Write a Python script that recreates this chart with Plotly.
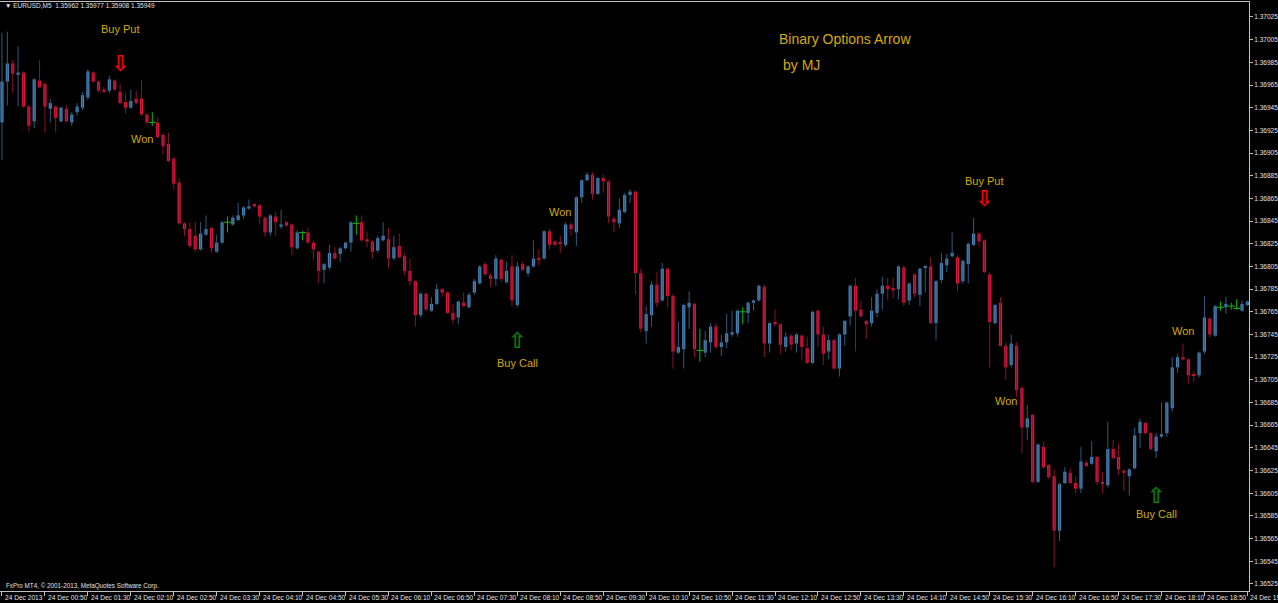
import plotly.graph_objects as go

# ---- data (EURUSD M5, 24 Dec 2013), one value per candle ----
opens = [1.36932,1.36968,1.36984,1.36974,1.36976,1.36946,1.36933,1.36969,1.36966,1.36944,
1.36946,1.36933,1.36944,1.36932,1.36941,1.36945,1.36954,1.36976,1.36968,1.36961,
1.36960,1.36969,1.36959,1.36950,1.36945,1.36953,1.36953,1.36939,1.36932,1.36932,
1.36921,1.36913,1.36900,1.36879,1.36843,1.36838,1.36832,1.36820,1.36833,1.36839,
1.36818,1.36826,1.36844,1.36842,1.36846,1.36850,1.36856,1.36860,1.36859,1.36848,
1.36835,1.36849,1.36840,1.36844,1.36842,1.36821,1.36835,1.36835,1.36826,1.36818,
1.36802,1.36804,1.36817,1.36816,1.36821,1.36826,1.36843,1.36844,1.36829,1.36827,
1.36819,1.36828,1.36829,1.36812,1.36823,1.36814,1.36801,1.36792,1.36762,1.36781,
1.36766,1.36772,1.36785,1.36782,1.36764,1.36760,1.36773,1.36769,1.36782,1.36790,
1.36807,1.36797,1.36794,1.36811,1.36791,1.36805,1.36771,1.36807,1.36799,1.36805,
1.36812,1.36812,1.36836,1.36827,1.36826,1.36824,1.36842,1.36835,1.36866,1.36881,
1.36886,1.36869,1.36883,1.36880,1.36847,1.36843,1.36853,1.36868,1.36871,1.36799,
1.36748,1.36762,1.36789,1.36775,1.36803,1.36779,1.36729,1.36732,1.36769,1.36772,
1.36731,1.36729,1.36738,1.36752,1.36734,1.36738,1.36745,1.36746,1.36765,1.36764,
1.36773,1.36775,1.36787,1.36737,1.36756,1.36754,1.36734,1.36744,1.36737,1.36744,
1.36733,1.36720,1.36766,1.36745,1.36730,1.36740,1.36715,1.36745,1.36761,1.36788,
1.36767,1.36757,1.36755,1.36764,1.36781,1.36788,1.36786,1.36785,1.36804,1.36775,
1.36798,1.36780,1.36804,1.36805,1.36755,1.36793,1.36806,1.36814,1.36813,1.36792,
1.36807,1.36824,1.36834,1.36828,1.36798,1.36755,1.36773,1.36735,1.36718,1.36735,
1.36698,1.36663,1.36674,1.36615,1.36646,1.36630,1.36620,1.36572,1.36614,1.36623,
1.36614,1.36609,1.36632,1.36631,1.36637,1.36615,1.36612,1.36644,1.36637,1.36625,
1.36620,1.36627,1.36658,1.36667,1.36658,1.36642,1.36655,1.36658,1.36680,1.36716,
1.36725,1.36723,1.36710,1.36709,1.36730,1.36759,1.36744,1.36769,1.36769,1.36770,
1.36768,1.36766,1.36771]
highs = [1.37011,1.37012,1.36987,1.36999,1.36977,1.36947,1.36971,1.36987,1.36967,1.36953,
1.36947,1.36946,1.36947,1.36941,1.36949,1.36959,1.36979,1.36977,1.36969,1.36963,
1.36973,1.36970,1.36966,1.36958,1.36961,1.36960,1.36969,1.36940,1.36941,1.36937,
1.36923,1.36923,1.36902,1.36883,1.36844,1.36844,1.36844,1.36844,1.36850,1.36840,
1.36833,1.36845,1.36849,1.36850,1.36861,1.36858,1.36864,1.36861,1.36860,1.36849,
1.36851,1.36853,1.36855,1.36845,1.36843,1.36837,1.36836,1.36839,1.36828,1.36819,
1.36808,1.36824,1.36822,1.36822,1.36827,1.36845,1.36850,1.36850,1.36836,1.36828,
1.36832,1.36844,1.36839,1.36832,1.36834,1.36817,1.36812,1.36793,1.36782,1.36782,
1.36778,1.36790,1.36786,1.36783,1.36772,1.36775,1.36782,1.36782,1.36794,1.36806,
1.36809,1.36799,1.36815,1.36812,1.36809,1.36815,1.36809,1.36809,1.36806,1.36828,
1.36820,1.36837,1.36838,1.36828,1.36832,1.36844,1.36844,1.36867,1.36882,1.36888,
1.36888,1.36884,1.36886,1.36881,1.36849,1.36865,1.36870,1.36873,1.36872,1.36803,
1.36770,1.36792,1.36800,1.36808,1.36804,1.36781,1.36756,1.36772,1.36783,1.36773,
1.36750,1.36748,1.36755,1.36755,1.36745,1.36763,1.36766,1.36767,1.36769,1.36774,
1.36776,1.36789,1.36789,1.36756,1.36767,1.36755,1.36747,1.36745,1.36746,1.36745,
1.36743,1.36766,1.36767,1.36752,1.36745,1.36741,1.36746,1.36758,1.36789,1.36795,
1.36775,1.36758,1.36778,1.36785,1.36796,1.36795,1.36795,1.36806,1.36806,1.36791,
1.36799,1.36804,1.36806,1.36813,1.36793,1.36817,1.36816,1.36835,1.36815,1.36811,
1.36826,1.36848,1.36835,1.36829,1.36800,1.36772,1.36778,1.36738,1.36745,1.36738,
1.36699,1.36683,1.36675,1.36649,1.36650,1.36631,1.36626,1.36614,1.36628,1.36627,
1.36620,1.36646,1.36634,1.36651,1.36638,1.36624,1.36668,1.36652,1.36649,1.36626,
1.36627,1.36663,1.36671,1.36668,1.36659,1.36658,1.36685,1.36686,1.36725,1.36728,
1.36737,1.36724,1.36713,1.36730,1.36779,1.36760,1.36771,1.36774,1.36778,1.36773,
1.36776,1.36775,1.36775]
lows = [1.36899,1.36947,1.36958,1.36946,1.36945,1.36924,1.36927,1.36962,1.36923,1.36932,
1.36923,1.36932,1.36932,1.36929,1.36938,1.36943,1.36952,1.36967,1.36959,1.36958,
1.36958,1.36960,1.36948,1.36940,1.36944,1.36948,1.36938,1.36930,1.36929,1.36918,
1.36904,1.36897,1.36873,1.36842,1.36832,1.36821,1.36818,1.36819,1.36832,1.36817,
1.36817,1.36825,1.36835,1.36841,1.36845,1.36847,1.36855,1.36857,1.36842,1.36831,
1.36832,1.36832,1.36838,1.36840,1.36815,1.36820,1.36828,1.36825,1.36811,1.36790,
1.36790,1.36802,1.36811,1.36809,1.36820,1.36818,1.36833,1.36827,1.36822,1.36812,
1.36817,1.36827,1.36804,1.36811,1.36812,1.36797,1.36788,1.36752,1.36760,1.36766,
1.36765,1.36771,1.36778,1.36763,1.36754,1.36754,1.36769,1.36768,1.36780,1.36789,
1.36797,1.36787,1.36788,1.36791,1.36790,1.36770,1.36769,1.36801,1.36796,1.36804,
1.36806,1.36811,1.36820,1.36823,1.36817,1.36822,1.36832,1.36823,1.36861,1.36880,
1.36864,1.36868,1.36870,1.36843,1.36835,1.36839,1.36852,1.36861,1.36780,1.36747,
1.36737,1.36752,1.36769,1.36774,1.36769,1.36715,1.36728,1.36715,1.36750,1.36725,
1.36721,1.36725,1.36729,1.36732,1.36726,1.36733,1.36743,1.36743,1.36754,1.36755,
1.36766,1.36774,1.36725,1.36729,1.36752,1.36728,1.36730,1.36731,1.36729,1.36723,
1.36719,1.36719,1.36734,1.36718,1.36723,1.36714,1.36708,1.36735,1.36753,1.36730,
1.36760,1.36741,1.36752,1.36760,1.36767,1.36775,1.36777,1.36776,1.36770,1.36771,
1.36778,1.36770,1.36782,1.36754,1.36740,1.36790,1.36800,1.36813,1.36783,1.36790,
1.36790,1.36823,1.36823,1.36799,1.36716,1.36754,1.36734,1.36705,1.36716,1.36690,
1.36640,1.36652,1.36614,1.36614,1.36627,1.36618,1.36540,1.36563,1.36613,1.36613,
1.36605,1.36605,1.36628,1.36630,1.36612,1.36605,1.36610,1.36635,1.36621,1.36607,
1.36603,1.36626,1.36645,1.36657,1.36643,1.36636,1.36654,1.36655,1.36677,1.36711,
1.36722,1.36702,1.36703,1.36707,1.36728,1.36742,1.36743,1.36766,1.36763,1.36767,
1.36767,1.36765,1.36770]
closes = [1.36968,1.36984,1.36975,1.36976,1.36946,1.36929,1.36970,1.36963,1.36946,1.36949,
1.36936,1.36945,1.36933,1.36939,1.36946,1.36956,1.36977,1.36968,1.36960,1.36959,
1.36970,1.36961,1.36949,1.36945,1.36951,1.36949,1.36939,1.36932,1.36932,1.36919,
1.36911,1.36898,1.36878,1.36843,1.36838,1.36823,1.36820,1.36834,1.36838,1.36821,
1.36826,1.36844,1.36844,1.36848,1.36850,1.36857,1.36858,1.36858,1.36849,1.36835,
1.36850,1.36844,1.36842,1.36841,1.36822,1.36835,1.36835,1.36826,1.36820,1.36801,
1.36807,1.36817,1.36812,1.36821,1.36826,1.36844,1.36843,1.36828,1.36827,1.36818,
1.36830,1.36832,1.36812,1.36822,1.36813,1.36801,1.36792,1.36762,1.36781,1.36767,
1.36772,1.36785,1.36782,1.36764,1.36758,1.36774,1.36770,1.36780,1.36792,1.36805,
1.36798,1.36794,1.36812,1.36794,1.36801,1.36775,1.36805,1.36802,1.36805,1.36812,
1.36811,1.36836,1.36824,1.36824,1.36825,1.36842,1.36838,1.36866,1.36881,1.36886,
1.36869,1.36883,1.36880,1.36849,1.36844,1.36855,1.36868,1.36871,1.36799,1.36750,
1.36763,1.36789,1.36773,1.36803,1.36779,1.36730,1.36734,1.36771,1.36773,1.36732,
1.36731,1.36740,1.36752,1.36734,1.36738,1.36746,1.36747,1.36766,1.36765,1.36773,
1.36775,1.36788,1.36737,1.36755,1.36754,1.36736,1.36743,1.36736,1.36745,1.36734,
1.36720,1.36765,1.36745,1.36728,1.36740,1.36715,1.36745,1.36757,1.36788,1.36766,
1.36761,1.36754,1.36766,1.36781,1.36788,1.36785,1.36784,1.36805,1.36773,1.36790,
1.36781,1.36803,1.36805,1.36755,1.36792,1.36808,1.36812,1.36817,1.36790,1.36810,
1.36825,1.36834,1.36827,1.36800,1.36756,1.36771,1.36735,1.36716,1.36737,1.36696,
1.36663,1.36671,1.36615,1.36648,1.36628,1.36619,1.36572,1.36613,1.36624,1.36614,
1.36609,1.36633,1.36629,1.36637,1.36615,1.36614,1.36644,1.36636,1.36626,1.36623,
1.36626,1.36656,1.36668,1.36658,1.36644,1.36655,1.36657,1.36685,1.36716,1.36725,
1.36723,1.36709,1.36709,1.36729,1.36760,1.36745,1.36770,1.36769,1.36772,1.36770,
1.36768,1.36772,1.36774]

time_labels = ["24 Dec 2013", "24 Dec 00:50", "24 Dec 01:30", "24 Dec 02:10", "24 Dec 02:50",
               "24 Dec 03:30", "24 Dec 04:10", "24 Dec 04:50", "24 Dec 05:30", "24 Dec 06:10",
               "24 Dec 06:50", "24 Dec 07:30", "24 Dec 08:10", "24 Dec 08:50", "24 Dec 09:30",
               "24 Dec 10:10", "24 Dec 10:50", "24 Dec 11:30", "24 Dec 12:10", "24 Dec 12:50",
               "24 Dec 13:30", "24 Dec 14:10", "24 Dec 14:50", "24 Dec 15:30", "24 Dec 16:10",
               "24 Dec 16:50", "24 Dec 17:30", "24 Dec 18:10", "24 Dec 18:50", "24 Dec 19:30"]
price_ticks = [1.36525, 1.36545, 1.36565, 1.36585, 1.36605, 1.36625, 1.36645, 1.36665, 1.36685,
               1.36705, 1.36725, 1.36745, 1.36765, 1.36785, 1.36805, 1.36825, 1.36845, 1.36865,
               1.36885, 1.36905, 1.36925, 1.36945, 1.36965, 1.36985, 1.37005, 1.37025]

# signal markers: (candle index, price, text)
signal_texts = [(22, 1.37014, "Buy Put"), (26, 1.36917, "Won"), (104, 1.36853, "Won"),
                (96, 1.36720, "Buy Call"), (183, 1.36880, "Buy Put"), (187, 1.36686, "Won"),
                (220, 1.36748, "Won"), (215, 1.36587, "Buy Call")]
put_arrows = [(22, 1.36984), (183, 1.36865)]
call_arrows = [(96, 1.36740), (215, 1.36603)]

# ---- styling ----
BULL, BEAR, DOJI = "#4682B4", "#DC143C", "#00C000"
BULL_WICK, BEAR_WICK = "#2f5a80", "#8c1030"
GOLD = "#D4AA00"
AXIS = "#c0c0c0"
FONT = "Liberation Sans"

n = len(opens)
idx = list(range(n))

fig = go.Figure()

# wicks
groups = {"bull": ([], [], BULL_WICK), "bear": ([], [], BEAR_WICK), "doji": ([], [], DOJI)}
for i in idx:
    k = "bull" if closes[i] > opens[i] else ("bear" if closes[i] < opens[i] else "doji")
    gx, gy, _ = groups[k]
    gx += [i, i, None]
    gy += [lows[i], highs[i], None]
for k, (gx, gy, col) in groups.items():
    fig.add_trace(go.Scatter(x=gx, y=gy, mode="lines", line=dict(color=col, width=1),
                             hoverinfo="skip", showlegend=False))

# bodies
bx, bbase, bh, bcol = [], [], [], []
for i in idx:
    if closes[i] != opens[i]:
        bx.append(i)
        bbase.append(min(opens[i], closes[i]))
        bh.append(abs(closes[i] - opens[i]))
        bcol.append(BULL if closes[i] > opens[i] else BEAR)
fig.add_trace(go.Bar(x=bx, y=bh, base=bbase, width=0.6, marker=dict(color=bcol, line=dict(width=0)),
                     showlegend=False, hoverinfo="skip"))

# doji ticks
dx = [i for i in idx if closes[i] == opens[i]]
dy = [closes[i] for i in dx]
fig.add_trace(go.Scatter(x=dx, y=dy, mode="markers",
                         marker=dict(symbol="line-ew", size=5, line=dict(color=DOJI, width=1)),
                         showlegend=False, hoverinfo="skip"))

ann = []
for (x, y, t) in signal_texts:
    ann.append(dict(x=x, y=y, text=t, showarrow=False, xanchor="center", yanchor="middle",
                    font=dict(family=FONT, size=11, color=GOLD)))
for (x, y) in put_arrows:
    ann.append(dict(x=x, y=y, text="<b>⇩</b>", showarrow=False, xanchor="center", yanchor="middle",
                    font=dict(family="DejaVu Sans", size=22, color="#FF0000")))
for (x, y) in call_arrows:
    ann.append(dict(x=x, y=y, text="<b>⇧</b>", showarrow=False, xanchor="center", yanchor="middle",
                    font=dict(family="DejaVu Sans", size=22, color="#008000")))

PLOT_TOP, PLOT_BOT, PLOT_W = 2, 591, 1249
def py(p):
    return (PLOT_BOT - p) / (PLOT_BOT - PLOT_TOP)

ann.append(dict(xref="paper", yref="paper", x=845 / PLOT_W, y=py(39), text="Binary Options Arrow",
                xanchor="center", yanchor="middle",
                showarrow=False, font=dict(family=FONT, size=14, color=GOLD)))
ann.append(dict(xref="paper", yref="paper", x=802 / PLOT_W, y=py(65), text="by MJ",
                xanchor="center", yanchor="middle",
                showarrow=False, font=dict(family=FONT, size=14, color=GOLD)))
ann.append(dict(xref="paper", yref="paper", x=3 / PLOT_W, y=py(6), xanchor="left", yanchor="middle",
                text="▼ EURUSD,M5  1.35962 1.35977 1.35908 1.35949",
                showarrow=False, font=dict(family=FONT, size=6.5, color="#e0e0e0")))
ann.append(dict(xref="paper", yref="paper", x=4 / PLOT_W, y=py(586), xanchor="left", yanchor="middle",
                text="FxPro MT4, © 2001-2013, MetaQuotes Software Corp.",
                showarrow=False, font=dict(family=FONT, size=6.3, color="#e0e0e0")))

tick_idx = list(range(0, n, 8))
for x, t in zip(tick_idx, time_labels):
    ann.append(dict(x=x, xref="x", yref="paper", y=py(597), xanchor="left", yanchor="middle", xshift=1,
                    text=t, showarrow=False, font=dict(family=FONT, size=6.6, color="#e0e0e0")))

fig.update_layout(
    width=1278, height=603,
    paper_bgcolor="black", plot_bgcolor="black",
    margin=dict(l=0, r=1278 - PLOT_W, t=PLOT_TOP, b=603 - PLOT_BOT, autoexpand=False),
    barmode="overlay", showlegend=False,
    annotations=ann,
    xaxis=dict(range=[-0.37, 232.3], showgrid=False, zeroline=False, showline=True,
               linecolor=AXIS, linewidth=1, mirror=True, tickvals=tick_idx, ticks="outside",
               ticklen=4, tickcolor=AXIS, showticklabels=False, fixedrange=True),
    yaxis=dict(side="right", range=[1.365188, 1.370382], showgrid=False, zeroline=False,
               showline=True, linecolor=AXIS, linewidth=1, mirror=True,
               tickvals=price_ticks, ticktext=[f"{v:.5f}" for v in price_ticks],
               ticks="outside", ticklen=3, tickcolor=AXIS,
               tickfont=dict(family=FONT, size=6.5, color="#e0e0e0"), automargin=False),
)

fig.write_html("out.html", config={"displayModeBar": False},
               post_script="document.body.style.margin='0px';document.body.style.overflow='hidden';")
